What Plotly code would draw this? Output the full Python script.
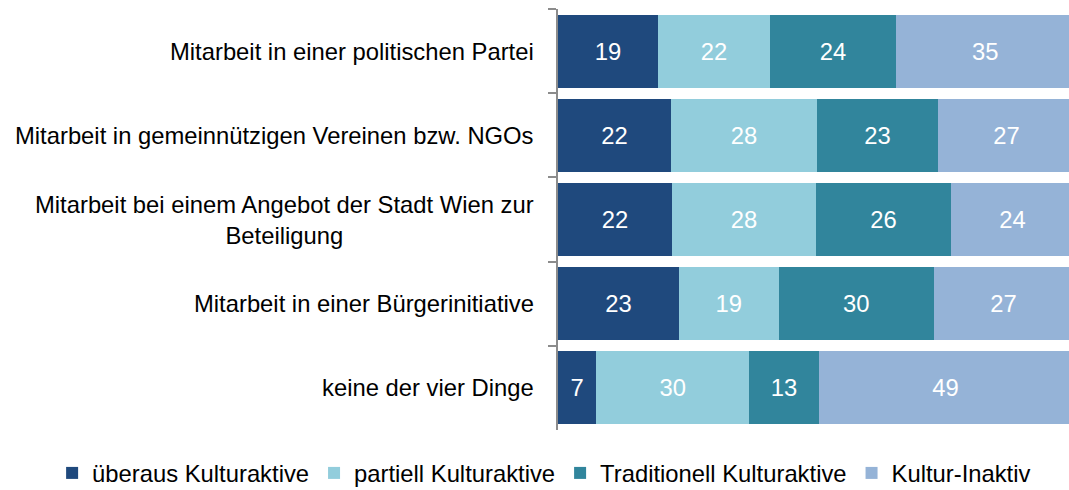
import plotly.graph_objects as go

categories = [
    "Mitarbeit in einer politischen Partei",
    "Mitarbeit in gemeinnützigen Vereinen bzw. NGOs",
    "Mitarbeit bei einem Angebot der Stadt Wien zur<br>Beteiligung",
    "Mitarbeit in einer Bürgerinitiative",
    "keine der vier Dinge",
]
series_names = ["überaus Kulturaktive", "partiell Kulturaktive",
                "Traditionell Kulturaktive", "Kultur-Inaktiv"]
ueberaus = [19.4, 21.9, 22.1, 23.4, 7.4]
partiell = [21.7, 28.3, 27.9, 19.4, 29.7]
traditionell = [24.4, 23.4, 26.2, 30.0, 13.4]
inaktiv = [34.6, 26.6, 23.8, 27.1, 49.2]
colors = ["#1F497D", "#92CDDC", "#31859C", "#95B3D7"]

FONT = "Liberation Sans, Arial, sans-serif"
FS = 23.8

fig = go.Figure()
for name, vals, col in zip(series_names, [ueberaus, partiell, traditionell, inaktiv], colors):
    fig.add_trace(go.Bar(
        y=categories, x=vals, name=name, orientation="h",
        marker=dict(color=col, line=dict(width=0)),
        texttemplate="%{x:.0f}", textposition="inside",
        insidetextanchor="middle", textangle=0, constraintext="none",
        textfont=dict(color="white", size=FS, family=FONT),
        hoverinfo="skip",
    ))

for c in categories:
    fig.add_annotation(
        x=0, xref="paper", y=c, yref="y", xanchor="right", yanchor="middle",
        xshift=-22, text=c, showarrow=False, align="center",
        font=dict(size=FS, color="#000000", family=FONT),
    )

fig.update_layout(
    barmode="stack",
    bargap=0.133,
    width=1069, height=490,
    margin=dict(l=558, r=0, t=9, b=60, autoexpand=False),
    paper_bgcolor="white", plot_bgcolor="white",
    font=dict(family=FONT, size=FS, color="#000000"),
    xaxis=dict(visible=False, range=[0, 99.03], fixedrange=True),
    yaxis=dict(
        range=[4.5, -0.5], showticklabels=False, showline=True,
        linecolor="#8c8c8c", linewidth=1.5, ticks="outside", ticklen=8,
        tickcolor="#8c8c8c", tickwidth=1.5, tickson="boundaries",
        showgrid=False, zeroline=False, fixedrange=True,
    ),
    legend=dict(
        orientation="h", xref="paper", yref="paper",
        x=-0.99, xanchor="left", y=-0.102, yanchor="middle",
        font=dict(size=FS, family=FONT, color="#000000"),
        itemwidth=30, traceorder="normal", tracegroupgap=0,
    ),
    showlegend=True,
)

fig.write_html("out.html", config={"displayModeBar": False},
               post_script="document.body.style.margin='0';")
